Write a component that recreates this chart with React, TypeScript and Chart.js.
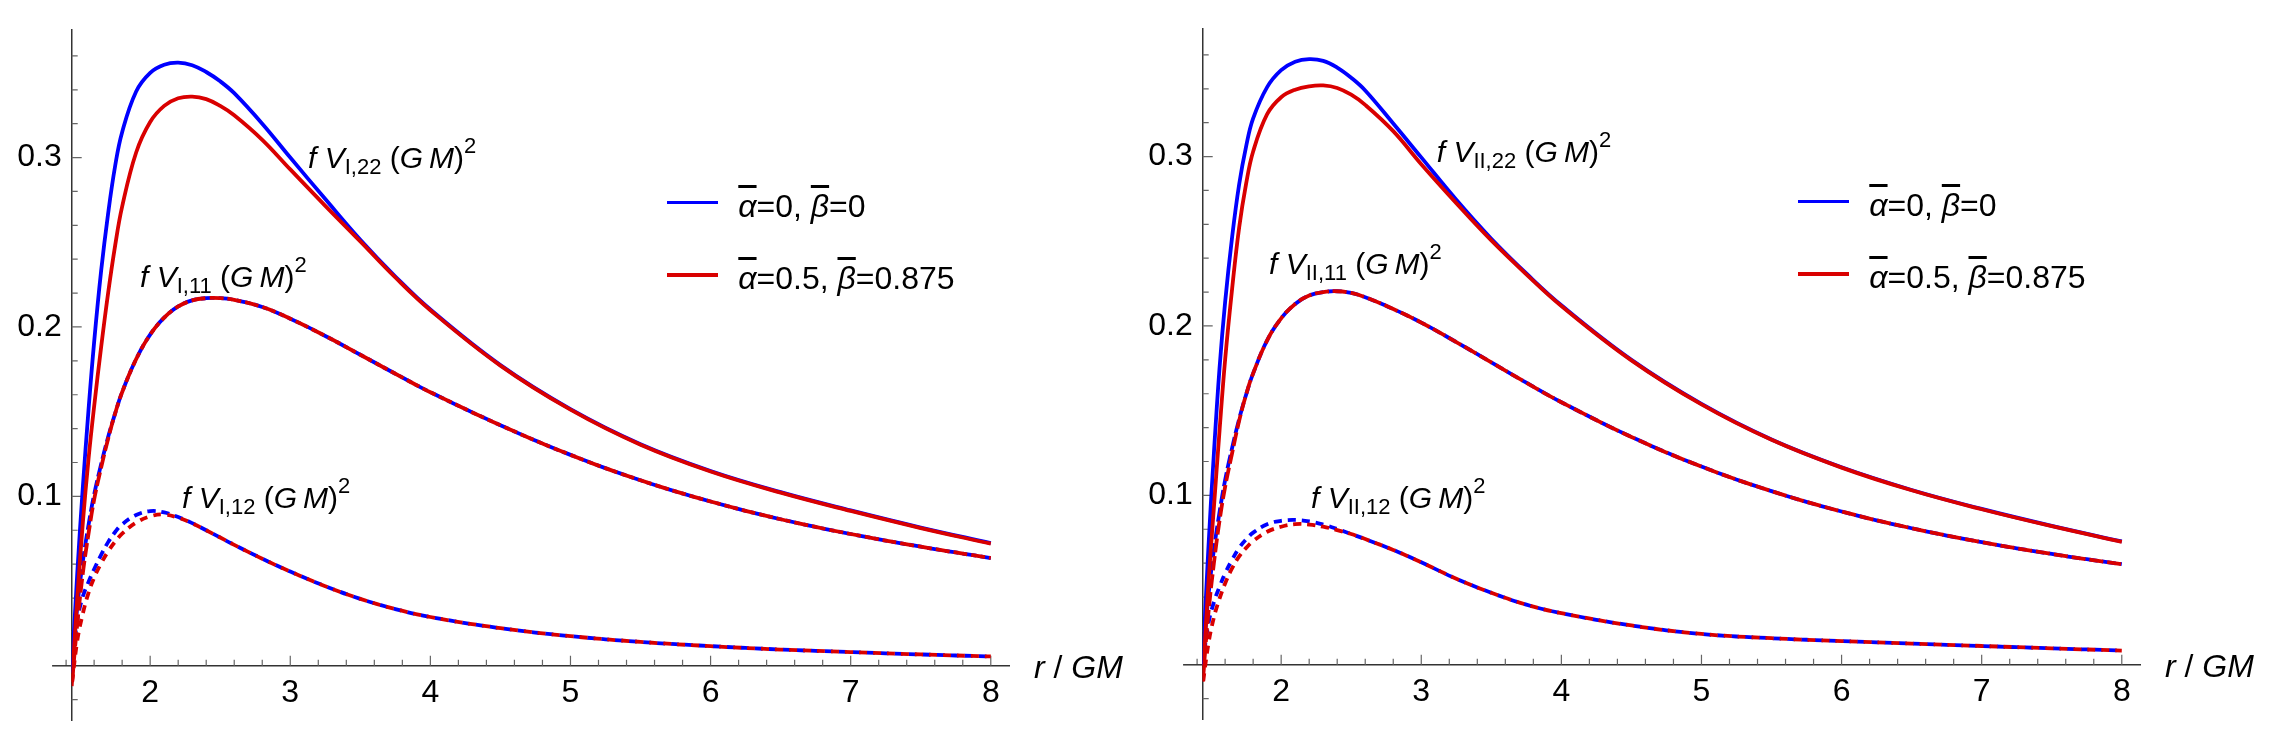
import { useEffect, useRef } from "react";
import { Chart, registerables } from "chart.js";

Chart.register(...registerables);

// r / GM sample points shared by every curve
const rGrid = [
  1.44, 1.48, 1.52, 1.56, 1.6, 1.65, 1.7, 1.75, 1.8, 1.9, 2.0, 2.1, 2.2, 2.3, 2.4, 2.5, 2.6, 2.8, 3.0, 3.25, 3.5, 3.75,
  4.0, 4.5, 5.0, 5.5, 6.0, 6.5, 7.0, 7.5, 8.0,
];

const xTicks = [2, 3, 4, 5, 6, 7, 8];
const yTicks = [0.1, 0.2, 0.3];

// panel I: blue = alpha 0, beta 0 ; red = alpha 0.5, beta 0.875
const vI22Blue = [
  -0.004, 0.055, 0.106, 0.151, 0.191, 0.233, 0.267, 0.295, 0.315, 0.339, 0.35, 0.3548, 0.356, 0.3545, 0.3505, 0.345,
  0.338, 0.32, 0.3, 0.2755, 0.2515, 0.2298, 0.2103, 0.1775, 0.1515, 0.1308, 0.115, 0.1025, 0.0917, 0.0816, 0.0724,
];
const vI22Red = [
  -0.012, 0.04, 0.085, 0.122, 0.153, 0.188, 0.22, 0.248, 0.271, 0.303, 0.321, 0.3305, 0.335, 0.336, 0.3345, 0.3305,
  0.325, 0.3105, 0.293, 0.2715, 0.2505, 0.2292, 0.2099, 0.1772, 0.1512, 0.1305, 0.1147, 0.1022, 0.0914, 0.0813, 0.0721,
];
const vI11Blue = [
  -0.004, 0.035, 0.062, 0.083, 0.101, 0.119, 0.135, 0.149, 0.1615, 0.181, 0.1955, 0.2055, 0.2121, 0.2157, 0.217, 0.217,
  0.216, 0.2118, 0.2049, 0.1947, 0.1836, 0.1724, 0.1615, 0.142, 0.1245, 0.1095, 0.097, 0.0865, 0.0778, 0.0703, 0.0636,
];
const vI11Red = [
  -0.012, 0.025, 0.055, 0.078, 0.098, 0.117, 0.134, 0.149, 0.1615, 0.181, 0.1955, 0.2055, 0.2121, 0.2157, 0.217, 0.217,
  0.216, 0.2118, 0.2049, 0.1947, 0.1836, 0.1724, 0.1615, 0.142, 0.1245, 0.1095, 0.097, 0.0865, 0.0778, 0.0703, 0.0636,
];
const vI12Blue = [
  0, 0.027, 0.041, 0.0495, 0.057, 0.0655, 0.073, 0.079, 0.0835, 0.089, 0.0913, 0.0905, 0.0878, 0.0842, 0.08, 0.0757,
  0.0714, 0.0632, 0.0556, 0.047, 0.0395, 0.0335, 0.0288, 0.0222, 0.0175, 0.0141, 0.0116, 0.0096, 0.0081, 0.0067, 0.0055,
];
const vI12Red = [
  -0.012, 0.015, 0.031, 0.043, 0.052, 0.0605, 0.0675, 0.0733, 0.078, 0.0845, 0.0882, 0.0893, 0.0874, 0.0841, 0.08,
  0.0757, 0.0714, 0.0632, 0.0556, 0.047, 0.0395, 0.0335, 0.0288, 0.0222, 0.0175, 0.0141, 0.0116, 0.0096, 0.0081, 0.0067,
  0.0055,
];

// panel II
const vII22Blue = [
  0, 0.068, 0.125, 0.175, 0.214, 0.2525, 0.2835, 0.306, 0.3225, 0.341, 0.351, 0.356, 0.3575, 0.3565, 0.3525, 0.3465,
  0.339, 0.3195, 0.2995, 0.2745, 0.2515, 0.231, 0.2122, 0.18, 0.154, 0.133, 0.1166, 0.1032, 0.092, 0.082, 0.0728,
];
const vII22Red = [
  -0.01, 0.047, 0.093, 0.138, 0.18, 0.222, 0.258, 0.284, 0.303, 0.325, 0.335, 0.3395, 0.3415, 0.342, 0.3405, 0.3365,
  0.3305, 0.315, 0.2955, 0.2725, 0.2505, 0.2305, 0.2118, 0.1797, 0.1537, 0.1328, 0.1164, 0.103, 0.0918, 0.0818, 0.0726,
];
const vII11Blue = [
  0, 0.04, 0.068, 0.09, 0.109, 0.128, 0.145, 0.1595, 0.172, 0.1915, 0.2045, 0.213, 0.218, 0.22, 0.2205, 0.2195, 0.217,
  0.21, 0.202, 0.1905, 0.1785, 0.1665, 0.155, 0.1345, 0.117, 0.1025, 0.0905, 0.0806, 0.0724, 0.0654, 0.0594,
];
const vII11Red = [
  -0.01, 0.03, 0.06, 0.085, 0.105, 0.125, 0.144, 0.1595, 0.172, 0.1915, 0.2045, 0.213, 0.218, 0.22, 0.2205, 0.2195,
  0.217, 0.21, 0.202, 0.1905, 0.1785, 0.1665, 0.155, 0.1345, 0.117, 0.1025, 0.0905, 0.0806, 0.0724, 0.0654, 0.0594,
];
const vII12Blue = [
  0, 0.024, 0.037, 0.046, 0.054, 0.062, 0.069, 0.074, 0.078, 0.083, 0.085, 0.0855, 0.0847, 0.0828, 0.0802, 0.0772,
  0.0742, 0.0678, 0.0605, 0.0508, 0.0425, 0.0355, 0.0305, 0.0232, 0.0182, 0.0157, 0.014, 0.0125, 0.0111, 0.0097, 0.0084,
];
const vII12Red = [
  -0.012, 0.012, 0.028, 0.039, 0.048, 0.057, 0.064, 0.069, 0.073, 0.0785, 0.0815, 0.083, 0.0828, 0.0815, 0.0795, 0.0772,
  0.0742, 0.0678, 0.0605, 0.0508, 0.0425, 0.0355, 0.0305, 0.0232, 0.0182, 0.0157, 0.014, 0.0125, 0.0111, 0.0097, 0.0084,
];

const blue = "#0000ff";
const red = "#d90000";
const axisColor = "#333";
const font = "'Liberation Sans', Arial, sans-serif";

const AXIS_X = 71.7; // y axis position inside a panel canvas

type Curve = { values: number[]; color: string; dash?: number[]; dashOffset?: number; order: number };

const solid = (values: number[], color: string, order: number): Curve => ({ values, color, order });
const longDash = (values: number[], color: string, order: number): Curve => ({
  values,
  color,
  order,
  dash: [14, 4],
  dashOffset: color === red ? 14 : 0,
});
const shortDash = (values: number[], color: string, order: number): Curve => ({
  values,
  color,
  order,
  dash: [8, 6],
  dashOffset: color === red ? 10 : 0,
});

const axisMarks = {
  id: "axisMarks",
  beforeDatasetsDraw(chart: any) {
    const { ctx, chartArea } = chart;
    const xs = chart.scales.x;
    const ys = chart.scales.y;
    const y0 = ys.getPixelForValue(0);
    const x0 = chartArea.left;
    ctx.save();
    ctx.strokeStyle = "#666";
    ctx.lineWidth = 1.2;
    ctx.beginPath();
    for (let i = 7; i <= 40; i++) {
      const px = xs.getPixelForValue(i / 5);
      const len = i % 5 === 0 ? 10 : 6;
      ctx.moveTo(px, y0);
      ctx.lineTo(px, y0 - len);
    }
    for (let j = -1; j <= 18; j++) {
      if (j === 0) continue;
      const py = ys.getPixelForValue(j / 50);
      const len = j % 5 === 0 ? 10 : 6;
      ctx.moveTo(x0, py);
      ctx.lineTo(x0 + len, py);
    }
    ctx.stroke();
    ctx.strokeStyle = axisColor;
    ctx.lineWidth = 1.5;
    ctx.beginPath();
    ctx.moveTo(xs.getPixelForValue(1.3), y0);
    ctx.lineTo(x0, y0);
    ctx.stroke();
    ctx.restore();
  },
};

function PanelChart({ curves }: { curves: Curve[] }) {
  const canvasRef = useRef<HTMLCanvasElement>(null);

  useEffect(() => {
    if (!canvasRef.current) return;
    const chart = new Chart(canvasRef.current, {
      type: "line",
      data: {
        datasets: curves.map((c) => ({
          data: rGrid.map((r, i) => ({ x: r, y: c.values[i] })),
          borderColor: c.color,
          borderWidth: 3.8,
          borderDash: c.dash ?? [],
          borderDashOffset: c.dashOffset ?? 0,
          pointRadius: 0,
          fill: false,
          tension: 0.4,
          order: c.order,
        })),
      },
      options: {
        animation: false,
        responsive: false,
        devicePixelRatio: 1,
        layout: { padding: { left: AXIS_X - 60, right: 128, top: 30, bottom: 11 } },
        plugins: { legend: { display: false }, tooltip: { enabled: false } },
        scales: {
          x: {
            type: "linear",
            min: 1.44,
            max: 8.13,
            position: { y: 0 } as any,
            grid: { display: false, drawTicks: false },
            border: { display: true, color: axisColor, width: 1.5 },
            afterBuildTicks: (s: any) => {
              s.ticks = xTicks.map((value) => ({ value }));
            },
            afterFit: (s: any) => {
              s.paddingLeft = 0;
              s.paddingRight = 0;
            },
            ticks: {
              autoSkip: false,
              maxRotation: 0,
              minRotation: 0,
              padding: 8,
              color: "#000",
              font: { family: font, size: 32 },
              callback: (v: any) => String(v),
            },
          },
          y: {
            type: "linear",
            min: -0.032,
            max: 0.3753,
            position: "left",
            grid: { display: false, drawTicks: false },
            border: { display: true, color: axisColor, width: 1.5 },
            afterBuildTicks: (s: any) => {
              s.ticks = yTicks.map((value) => ({ value }));
            },
            afterFit: (s: any) => {
              s.width = 60;
              s.paddingTop = 0;
              s.paddingBottom = 0;
            },
            ticks: {
              padding: 10,
              color: "#000",
              font: { family: font, size: 32 },
              callback: (v: any) => Number(v).toFixed(1),
            },
          },
        },
      },
      plugins: [axisMarks],
    });
    return () => {
      chart.destroy();
    };
  }, [curves]);

  return (
    <canvas
      ref={canvasRef}
      width={1137}
      height={731}
      style={{ position: "absolute", left: 0, top: 0, width: 1137, height: 731 }}
    />
  );
}

const sub = (text: string) => (
  <span style={{ fontSize: 22, verticalAlign: "-6px", lineHeight: 0 }}>{text}</span>
);
const sup = (text: string) => (
  <span style={{ fontSize: 22, verticalAlign: "15px", lineHeight: 0 }}>{text}</span>
);

function CurveLabel({ left, baseline, index }: { left: number; baseline: number; index: string }) {
  const size = 30;
  return (
    <div
      style={{
        position: "absolute",
        left,
        top: baseline - 0.8465 * size,
        fontSize: size,
        lineHeight: `${size}px`,
        whiteSpace: "nowrap",
      }}
    >
      <i>f</i> <i>V</i>
      {sub(index)} (<i>G</i>
      {"\u2009"}
      <i>M</i>){sup("2")}
    </div>
  );
}

const bar = (ch: string) => (
  <i style={{ textDecoration: "overline", textDecorationThickness: "2.5px" }}>{ch}</i>
);

function TextRow({ left, baseline, children }: { left: number; baseline: number; children: any }) {
  return (
    <div
      style={{
        position: "absolute",
        left,
        top: baseline - 0.8465 * 32,
        fontSize: 32,
        lineHeight: "32px",
        whiteSpace: "nowrap",
      }}
    >
      {children}
    </div>
  );
}

type PanelProps = {
  left: number;
  top: number;
  curves: Curve[];
  roman: string;
  labels: { left: number; baseline: number; index: string }[];
};

function Panel({ left, top, curves, roman, labels }: PanelProps) {
  return (
    <div style={{ position: "absolute", left, top, width: 1137, height: 731 }}>
      <PanelChart curves={curves} />
      {labels.map((l) => (
        <CurveLabel key={l.index} left={AXIS_X + l.left} baseline={l.baseline} index={`${roman},${l.index}`} />
      ))}
      <div style={{ position: "absolute", left: AXIS_X + 595, top: 202.3 - 1.65, width: 51.6, height: 3.3, background: blue }} />
      <div style={{ position: "absolute", left: AXIS_X + 595, top: 275 - 1.65, width: 51.6, height: 3.3, background: red }} />
      <TextRow left={AXIS_X + 666.6} baseline={216.7}>
        {bar("α")}=0, {bar("β")}=0
      </TextRow>
      <TextRow left={AXIS_X + 666.6} baseline={289.3}>
        {bar("α")}=0.5, {bar("β")}=0.875
      </TextRow>
      <TextRow left={AXIS_X + 962.3} baseline={678}>
        <i>r</i> / <i>GM</i>
      </TextRow>
    </div>
  );
}

const curvesI: Curve[] = [
  solid(vI22Blue, blue, 2),
  solid(vI22Red, red, 1),
  longDash(vI11Blue, blue, 2),
  longDash(vI11Red, red, 1),
  shortDash(vI12Blue, blue, 2),
  shortDash(vI12Red, red, 1),
];

const curvesII: Curve[] = [
  solid(vII22Blue, blue, 2),
  solid(vII22Red, red, 1),
  longDash(vII11Blue, blue, 2),
  longDash(vII11Red, red, 1),
  shortDash(vII12Blue, blue, 2),
  shortDash(vII12Red, red, 1),
];

export default function App() {
  return (
    <div
      style={{
        position: "fixed",
        left: 0,
        top: 0,
        width: 2275,
        height: 731,
        background: "#fff",
        color: "#000",
        fontFamily: font,
        overflow: "hidden",
      }}
    >
      <Panel
        left={0}
        top={0}
        curves={curvesI}
        roman="I"
        labels={[
          { left: 236.3, baseline: 168, index: "22" },
          { left: 68.3, baseline: 287, index: "11" },
          { left: 110.3, baseline: 508, index: "12" },
        ]}
      />
      <Panel
        left={1131}
        top={-1}
        curves={curvesII}
        roman="II"
        labels={[
          { left: 234, baseline: 163, index: "22" },
          { left: 66.3, baseline: 275, index: "11" },
          { left: 108.3, baseline: 509, index: "12" },
        ]}
      />
    </div>
  );
}
